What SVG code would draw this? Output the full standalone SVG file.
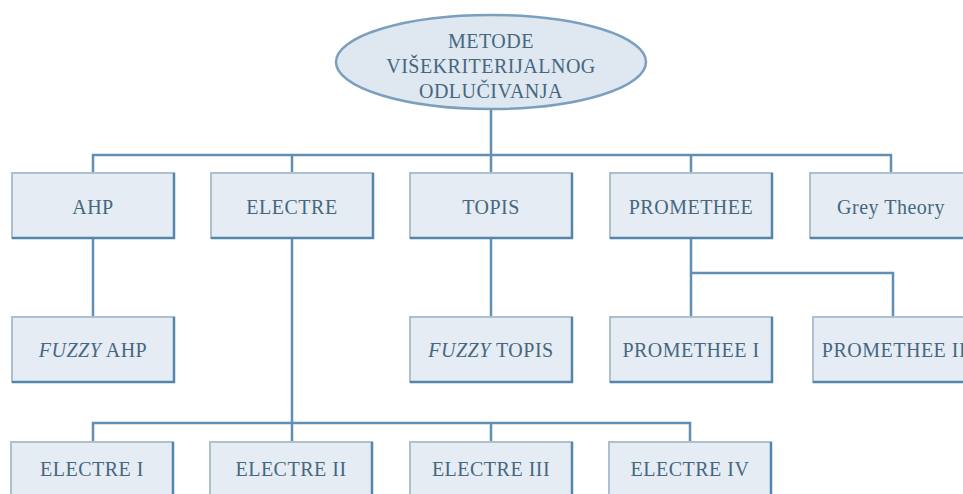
<svg xmlns="http://www.w3.org/2000/svg" width="963" height="494" viewBox="0 0 963 494">
<style>
.bg{fill:#ffffff}
.box{fill:#e5ecf3;stroke:#aebfce;stroke-width:2}
.sh{fill:none;stroke:#5486ad;stroke-width:2.5}
.t{font-family:"Liberation Serif","Times New Roman",serif;font-size:20px;fill:#456781;text-anchor:middle;letter-spacing:0.5px}
.i{font-style:italic}
.c{fill:none;stroke:#5f8fb5;stroke-width:2.5}
.el{fill:#dfe7f0;stroke:#7a9fbf;stroke-width:2.5}
</style>
<defs>
<g id="b">
<rect class="box" x="0" y="0" width="162" height="65"/>
<polyline class="sh" points="162,0 162,65 0,65"/>
</g>
</defs>
<rect class="bg" x="0" y="0" width="963" height="494"/>
<g id="connectors">
<path class="c" d="M491,110 V155 M93,173 V155 H891 V173 M292,155 V173 M491,155 V173 M691,155 V173"/>
<path class="c" d="M93,238 V317"/>
<path class="c" d="M491,238 V317"/>
<path class="c" d="M691,238 V273 M691,273 H893 V317 M691,273 V317"/>
<path class="c" d="M292,238 V423 M93,442 V423 H690 V442 M292,423 V442 M491,423 V442"/>
</g>
<g id="root">
<ellipse class="el" cx="491" cy="62" rx="155" ry="47"/>
<text class="t" x="491" y="48">METODE</text>
<text class="t" x="491" y="73">VIŠEKRITERIJALNOG</text>
<text class="t" x="491" y="98">ODLUČIVANJA</text>
</g>
<g id="ahp"><use href="#b" x="12" y="173"/><text class="t" x="93" y="214">AHP</text></g>
<g id="electre"><use href="#b" x="211" y="173"/><text class="t" x="292" y="214">ELECTRE</text></g>
<g id="topis"><use href="#b" x="410" y="173"/><text class="t" x="491" y="214">TOPIS</text></g>
<g id="promethee"><use href="#b" x="610" y="173"/><text class="t" x="691" y="214">PROMETHEE</text></g>
<g id="grey"><use href="#b" x="810" y="173"/><text class="t" x="891" y="214">Grey Theory</text></g>
<g id="fuzzyahp"><use href="#b" x="12" y="317"/><text class="t" x="93" y="357"><tspan class="i">FUZZY</tspan> AHP</text></g>
<g id="fuzzytopis"><use href="#b" x="410" y="317"/><text class="t" x="491" y="357"><tspan class="i">FUZZY</tspan> TOPIS</text></g>
<g id="prom1"><use href="#b" x="610" y="317"/><text class="t" x="691" y="357">PROMETHEE I</text></g>
<g id="prom2"><use href="#b" x="813" y="317"/><text class="t" x="894" y="357">PROMETHEE II</text></g>
<g id="e1"><use href="#b" x="11" y="442"/><text class="t" x="92" y="476">ELECTRE I</text></g>
<g id="e2"><use href="#b" x="210" y="442"/><text class="t" x="291" y="476">ELECTRE II</text></g>
<g id="e3"><use href="#b" x="410" y="442"/><text class="t" x="491" y="476">ELECTRE III</text></g>
<g id="e4"><use href="#b" x="609" y="442"/><text class="t" x="690" y="476">ELECTRE IV</text></g>
</svg>
